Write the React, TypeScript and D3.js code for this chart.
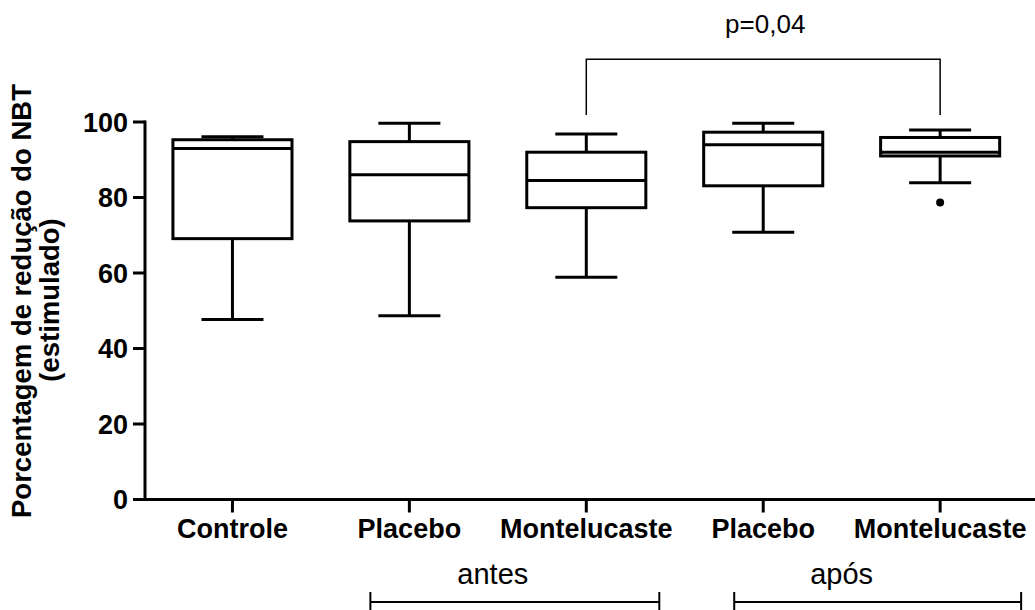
import React from "react";
import * as d3 from "d3";

// Group labels along the x axis
const categories = ["Controle", "Placebo", "Montelucaste", "Placebo", "Montelucaste"];
// Five-number summaries per group (whisker low, Q1, median, Q3, whisker high)
const whiskerLow = [47.7, 48.7, 58.9, 70.8, 83.9];
const q1 = [69.1, 73.8, 77.3, 83.1, 91.0];
const median = [93.0, 86.0, 84.5, 94.0, 92.0];
const q3 = [95.3, 94.8, 92.0, 97.3, 95.9];
const whiskerHigh = [96.1, 99.7, 96.8, 99.7, 97.9];
// Outlying points: [group index, value]
const outliers: [number, number][] = [[4, 78.7]];
const yTicks = [0, 20, 40, 60, 80, 100];
const pLabel = "p=0,04";
const periodLabels = ["antes", "após"];

const W = 1035;
const H = 610;
const FONT = "'Liberation Sans', Arial, Helvetica, sans-serif";

export default function App() {
  const x = d3
    .scaleBand<number>()
    .domain(d3.range(categories.length))
    .range([144, 1028.6])
    .paddingInner(0)
    .paddingOuter(0);
  const y = d3.scaleLinear().domain([0, 100]).range([499.5, 122]);
  const step = x.step();
  const cx = (i: number) => (x(i) as number) + step / 2;
  const boxW = step * 0.673;
  const capW = 62;
  const sw = 3;

  const axisLeft = 145;
  const axisBottom = y(0);

  // significance bracket between Montelucaste antes and após
  const brTop = 59.3;
  const brBottom = 115;

  return (
    <svg
      width={W}
      height={H}
      style={{ position: "absolute", left: 0, top: 0, background: "#fff" }}
      fontFamily={FONT}
    >
      <rect x={0} y={0} width={W} height={H} fill="#fff" />

      {/* boxes and whiskers */}
      {categories.map((_, i) => {
        const c = cx(i);
        return (
          <g key={i} stroke="#000" strokeWidth={sw} fill="none">
            <line x1={c} x2={c} y1={y(q3[i])} y2={y(whiskerHigh[i])} />
            <line x1={c} x2={c} y1={y(q1[i])} y2={y(whiskerLow[i])} />
            <line x1={c - capW / 2} x2={c + capW / 2} y1={y(whiskerHigh[i])} y2={y(whiskerHigh[i])} />
            <line x1={c - capW / 2} x2={c + capW / 2} y1={y(whiskerLow[i])} y2={y(whiskerLow[i])} />
            <rect
              x={c - boxW / 2}
              y={y(q3[i])}
              width={boxW}
              height={y(q1[i]) - y(q3[i])}
              fill="#fff"
            />
            <line x1={c - boxW / 2} x2={c + boxW / 2} y1={y(median[i])} y2={y(median[i])} />
          </g>
        );
      })}
      {outliers.map(([i, v], k) => (
        <circle key={k} cx={cx(i)} cy={y(v)} r={4} fill="#000" />
      ))}

      {/* y axis */}
      <line x1={axisLeft} x2={axisLeft} y1={y(100) - 1.5} y2={axisBottom + 1.5} stroke="#000" strokeWidth={sw} />
      {yTicks.map((t) => (
        <g key={t}>
          <line x1={133} x2={axisLeft} y1={y(t)} y2={y(t)} stroke="#000" strokeWidth={sw} />
          <text
            x={128}
            y={y(t)}
            dy="0.36em"
            textAnchor="end"
            fontSize={27}
            fontWeight="bold"
          >
            {t}
          </text>
        </g>
      ))}

      {/* x axis */}
      <line x1={axisLeft - 1.5} x2={W} y1={axisBottom} y2={axisBottom} stroke="#000" strokeWidth={sw} />
      {categories.map((c, i) => (
        <g key={i}>
          <line x1={cx(i)} x2={cx(i)} y1={axisBottom} y2={axisBottom + 13} stroke="#000" strokeWidth={sw} />
          <text x={cx(i)} y={538} textAnchor="middle" fontSize={27} fontWeight="bold">
            {c}
          </text>
        </g>
      ))}

      {/* y axis title */}
      <g transform="translate(31,301) rotate(-90)">
        <text textAnchor="middle" fontSize={27.5} fontWeight="bold">
          Porcentagem de redução do NBT
        </text>
      </g>
      <g transform="translate(59,300) rotate(-90)">
        <text textAnchor="middle" fontSize={27.5} fontWeight="bold">
          (estimulado)
        </text>
      </g>

      {/* significance bracket */}
      <path
        d={`M${cx(2)},${brBottom}V${brTop}H${cx(4)}V${brBottom}`}
        fill="none"
        stroke="#000"
        strokeWidth={1.5}
      />
      <text x={(cx(2) + cx(4)) / 2 + 2} y={33} textAnchor="middle" fontSize={26}>
        {pLabel}
      </text>

      {/* period brackets */}
      {[
        [1, 2],
        [3, 4],
      ].map(([a, b], k) => {
        const left = cx(a) - (k === 0 ? 39 : 29);
        const right = cx(b) + (k === 0 ? 73 : 81);
        const yl = 602;
        return (
          <g key={k}>
            <path
              d={`M${left},${yl}H${right}M${left},${yl - 10}V${H}M${right},${yl - 10}V${H}`}
              fill="none"
              stroke="#000"
              strokeWidth={2}
            />
            <text x={(cx(a) + cx(b)) / 2 - (k === 0 ? 5 : 10)} y={584} textAnchor="middle" fontSize={29}>
              {periodLabels[k]}
            </text>
          </g>
        );
      })}
    </svg>
  );
}
